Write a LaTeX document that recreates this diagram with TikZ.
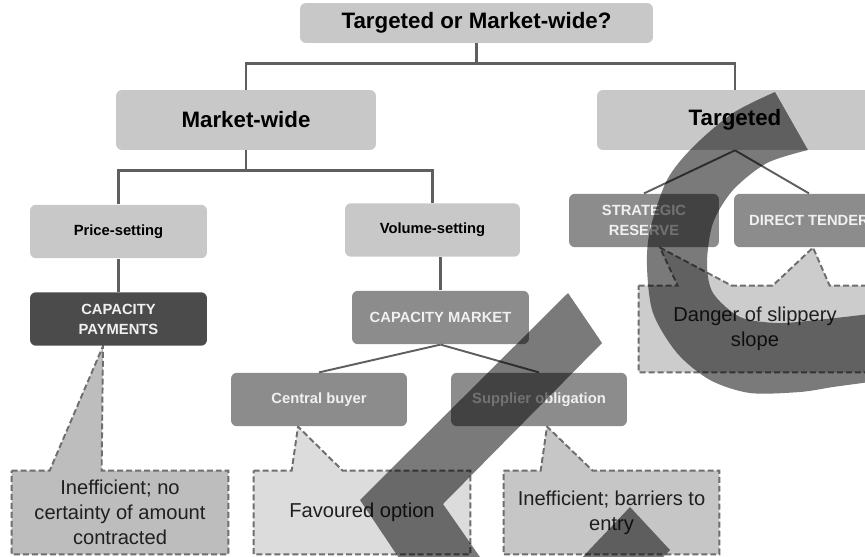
\documentclass[tikz,border=0pt]{standalone}
\usepackage{fontspec}
\setmainfont{Liberation Sans}
\usetikzlibrary{backgrounds}
\definecolor{boxLight}{HTML}{C8C8C8}
\definecolor{boxMid}{HTML}{8C8C8C}
\definecolor{boxDark}{HTML}{4B4B4B}
\definecolor{lineGrey}{HTML}{5F5F5F}
\definecolor{noteEdge}{HTML}{6E6E6E}
\definecolor{noteA}{HTML}{BDBDBD}
\definecolor{noteB}{HTML}{DCDCDC}
\definecolor{noteC}{HTML}{C6C6C6}
\definecolor{noteD}{HTML}{CCCCCC}

\begin{document}
\begin{tikzpicture}[x=0.02cm, y=-0.02cm,
    box/.style={rectangle, rounded corners=0.12cm, inner sep=0pt, align=center},
    bigbox/.style={box, fill=boxLight, minimum height=1.2cm, font=\bfseries\fontsize{12.7}{15}\selectfont},
    subbox/.style={box, fill=boxLight, minimum height=1.07cm, font=\bfseries\fontsize{8.4}{11.3}\selectfont},
    optbox/.style={box, fill=boxMid, text=white!94!black, minimum height=1.07cm, font=\bfseries\fontsize{8.4}{11.3}\selectfont},
    note/.style={rectangle, inner sep=0pt, align=center, text=black!88, font=\fontsize{11.45}{14.2}\selectfont},
    noteline/.style={draw=noteEdge, line width=1.1pt, dash pattern=on 3.4pt off 1.7pt},
    tree/.style={draw=lineGrey, line width=1.6pt},
    branch/.style={draw=lineGrey, line width=1.1pt},
    inkmark/.style={fill=black, opacity=0.52}]
    \clip (0,0) rectangle (865,557);

    % Question and the two answers
    \node[bigbox, minimum width=7.06cm, minimum height=0.8cm] (top) at (476.5,23) {Targeted or Market-wide?};
    \node[bigbox, minimum width=5.2cm] (mw) at (246,120) {Market-wide};
    \node[bigbox, minimum width=5.52cm] (tg) at (735,120) {Targeted};

    \draw[tree] (top.south) -- ++(0,20) -| (mw.north);
    \draw[tree] (top.south) -- ++(0,20) -| (tg.north);

    % Market-wide branch
    \node[subbox, minimum width=3.54cm] (price) at (118.5,231.5) {Price-setting};
    \node[subbox, minimum width=3.5cm] (volume) at (432.5,230) {Volume-setting};
    \draw[tree] (mw.south) -- ++(0,20) -| (price.north);
    \draw[tree] (mw.south) -- ++(0,20) -| (volume.north);

    \node[optbox, fill=boxDark, minimum width=3.54cm] (cappay) at (118.5,319) {CAPACITY\\PAYMENTS};
    \node[optbox, minimum width=3.54cm] (capmkt) at (440.5,317.5) {CAPACITY MARKET};
    \draw[tree] (price.south) -- (cappay.north);
    \draw[tree] (capmkt.north |- volume.south) -- (capmkt.north);

    \node[optbox, minimum width=3.52cm] (central) at (319,399.5) {Central buyer};
    \node[optbox, minimum width=3.52cm] (supplier) at (539,399.5) {Supplier obligation};
    \draw[branch] (capmkt.south) -- (central.north);
    \draw[branch] (capmkt.south) -- (supplier.north);

    % Targeted branch
    \node[optbox, minimum width=3cm] (strategic) at (644,220.5) {STRATEGIC\\RESERVE};
    \node[optbox, minimum width=3cm] (direct) at (809,220.5) {DIRECT TENDER};
    \draw[branch] (tg.south) -- (strategic.north);
    \draw[branch] (tg.south) -- (direct.north);

    % Comments
    \node[note, minimum width=4.32cm, minimum height=1.66cm] (cpnote) at (120,512.5) {Inefficient; no\\certainty of amount\\contracted};
    \node[note, minimum width=4.32cm, minimum height=1.66cm] (fvnote) at (362,512.5) {Favoured option};
    \node[note, minimum width=4.3cm, minimum height=1.66cm] (bnote) at (611.5,512.5) {Inefficient; barriers to\\entry};
    \node[note, minimum width=4.64cm, minimum height=1.72cm] (dgnote) at (755,329) {Danger of slippery\\slope};

    \begin{scope}[on background layer]
        \draw[noteline, fill=noteA] (cpnote.north west) -- ([xshift=0.76cm]cpnote.north west)
            -- ([xshift=-0.31cm]cappay.south) -- ([xshift=1.8cm]cpnote.north west)
            -- (cpnote.north east) -- (cpnote.south east) -- (cpnote.south west) -- cycle;
        \draw[noteline, fill=noteB] (fvnote.north west) -- ([xshift=0.76cm]fvnote.north west)
            -- ([xshift=-0.42cm]central.south) -- ([xshift=1.78cm]fvnote.north west)
            -- (fvnote.north east) -- (fvnote.south east) -- (fvnote.south west) -- cycle;
        \draw[noteline, fill=noteC] (bnote.north west) -- ([xshift=0.74cm]bnote.north west)
            -- ([xshift=0.16cm]supplier.south) -- ([xshift=1.78cm]bnote.north west)
            -- (bnote.north east) -- (bnote.south east) -- (bnote.south west) -- cycle;
        \draw[noteline, fill=noteD] (dgnote.north west) -- ([xshift=0.78cm]dgnote.north west)
            -- ([xshift=0.32cm]strategic.south) -- ([xshift=1.86cm]dgnote.north west)
            -- ([xshift=2.68cm]dgnote.north west) -- ([xshift=0.08cm]direct.south)
            -- ([xshift=3.82cm]dgnote.north west)
            -- (dgnote.north east) -- (dgnote.south east) -- (dgnote.south west) -- cycle;
    \end{scope}

    % Scribbles over the figure
    \fill[inkmark] plot[smooth] coordinates {(775,92) (733,113) (693,147) (667,180) (650,230) (647,267) (653,313) (677,353) (710,380) (750,393) (800,392) (833,387) (870,382)}
        -- plot[smooth] coordinates {(870,314) (817,320) (777,323) (740,317) (713,293) (707,263) (713,223) (733,190) (767,163) (808,150)} -- cycle;
    \fill[inkmark] (568,293) -- (602,343) -- (443,504) -- (489,570) -- (407,570) -- (360,500) -- cycle;
    \fill[inkmark] (630,507) -- (670,550) -- (655,565) -- (575,565) -- cycle;
\end{tikzpicture}
\end{document}
